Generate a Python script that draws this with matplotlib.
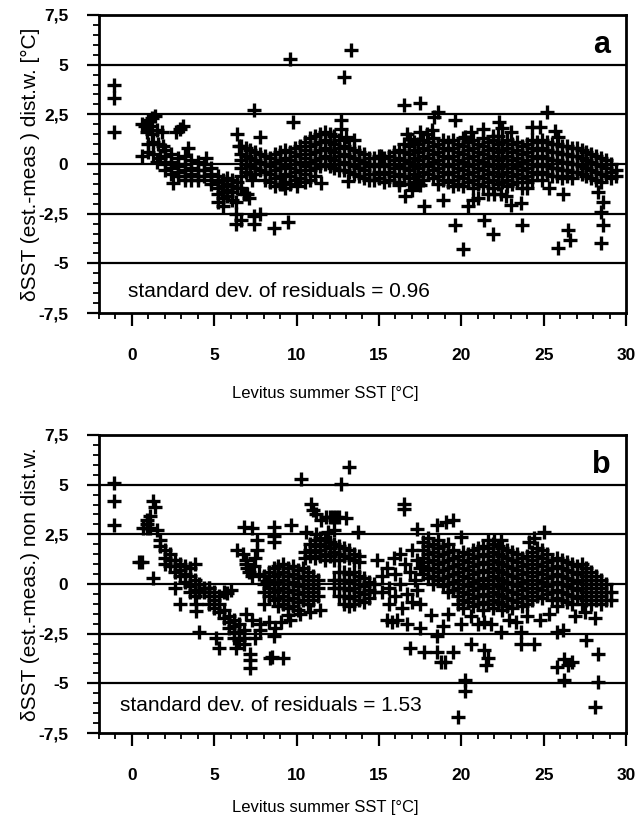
import matplotlib
matplotlib.use("Agg")
import matplotlib.pyplot as plt
from matplotlib import font_manager
from matplotlib.ticker import MultipleLocator

# ---- panel a: dense band as columns (x, [y...]) plus scattered points ----
a_cols = [
    (2.0, [0.4, 0.0, -0.3]), (2.4, [0.5, 0.1, -0.2, -0.5]), (2.8, [0.3, -0.1, -0.4, -0.6]),
    (3.2, [0.4, 0.0, -0.3, -0.6, -0.8]), (3.6, [0.2, -0.2, -0.5, -0.8]), (4.0, [0.1, -0.3, -0.6, -0.8]),
    (4.4, [0.0, -0.3, -0.6]), (4.8, [-0.2, -0.5, -0.8, -1.0]),
    (5.2, [-0.6, -0.9, -1.2, -1.5, -1.9]), (5.5, [-0.8, -1.1, -1.4, -1.7, -2.1]),
    (5.8, [-0.7, -1.0, -1.3, -1.6]), (6.1, [-0.8, -1.1, -1.4, -1.8]), (6.4, [-0.9, -1.2]),
    (6.6, [0.9, 0.5, 0.2, -0.2, -0.6]), (6.9, [0.8, 0.4, 0.0, -0.4]), (7.2, [0.7, 0.3, -0.1, -0.5]),
    (7.5, [0.6, 0.2, -0.2, -0.5]), (7.8, [0.5, 0.1, -0.3]),
    (8.1, [0.4, 0.0, -0.4, -0.8]), (8.4, [0.3, -0.1, -0.5, -0.9]), (8.7, [0.5, 0.1, -0.3, -0.7, -1.1]),
    (9.0, [0.6, 0.2, -0.2, -0.6, -1.0]), (9.3, [0.7, 0.3, -0.1, -0.5, -0.9, -1.2]),
    (9.6, [0.6, 0.2, -0.2, -0.6, -1.0]), (9.9, [0.8, 0.4, 0.0, -0.4, -0.8]),
    (10.2, [0.9, 0.5, 0.1, -0.3, -0.7]),
    (10.5, [1.1, 0.7, 0.3, -0.1, -0.5, -0.9]), (10.8, [1.3, 0.9, 0.5, 0.1, -0.3, -0.8]),
    (11.1, [1.4, 1.0, 0.6, 0.2, -0.2, -0.6]), (11.4, [1.5, 1.1, 0.7, 0.3, -0.1]),
    (11.7, [1.6, 1.2, 0.8, 0.4, 0.0]), (12.0, [1.5, 1.1, 0.7, 0.3, -0.1]),
    (12.3, [1.4, 1.0, 0.6, 0.2, -0.2]), (12.6, [1.2, 0.8, 0.4, 0.0, -0.3]),
    (12.9, [0.9, 0.5, 0.1, -0.3]), (13.2, [0.8, 0.4, 0.0, -0.4]), (13.5, [0.7, 0.3, -0.1, -0.5]),
    (13.8, [0.6, 0.2, -0.2, -0.6]), (14.1, [0.5, 0.1, -0.3, -0.7]), (14.4, [0.3, -0.1, -0.5, -0.8]),
    (14.7, [0.3, -0.1, -0.5, -0.8]), (15.0, [0.4, 0.0, -0.4, -0.7]), (15.3, [0.3, -0.1, -0.5, -0.9]),
    (15.6, [0.4, 0.0, -0.4, -0.8]), (15.9, [0.6, 0.2, -0.2, -0.6]), (16.2, [0.7, 0.3, -0.1, -0.5, -0.9]),
    (16.5, [1.0, 0.6, 0.2, -0.2, -0.6]), (16.8, [0.9, 0.5, 0.1, -0.3, -0.7, -1.0]),
    (17.1, [1.1, 0.7, 0.3, -0.1, -0.5, -0.9]), (17.4, [1.0, 0.6, 0.2, -0.2, -0.6, -1.0]),
    (17.7, [1.2, 0.8, 0.4, 0.0, -0.4, -0.8]), (18.0, [1.1, 0.7, 0.3, -0.1, -0.5]),
    (18.3, [1.3, 0.9, 0.5, 0.1, -0.3, -0.7]), (18.6, [1.0, 0.6, 0.2, -0.2, -0.6, -1.0]),
    (18.9, [1.2, 0.8, 0.4, 0.0, -0.4, -0.8]),
    (19.2, [1.1, 0.7, 0.3, -0.1, -0.5, -0.9]), (19.5, [1.2, 0.8, 0.4, 0.0, -0.4, -0.8, -1.1]),
    (19.8, [1.0, 0.6, 0.2, -0.2, -0.6, -1.0]), (20.1, [1.3, 0.9, 0.5, 0.1, -0.3, -0.7, -1.1]),
    (20.4, [1.1, 0.7, 0.3, -0.1, -0.5, -0.9]), (20.7, [1.2, 0.8, 0.4, 0.0, -0.4, -0.8, -1.2]),
    (21.0, [1.0, 0.6, 0.2, -0.2, -0.6, -1.0]), (21.3, [1.3, 0.9, 0.5, 0.1, -0.3, -0.7, -1.1]),
    (21.6, [1.1, 0.7, 0.3, -0.1, -0.5, -0.9]), (21.9, [1.2, 0.8, 0.4, 0.0, -0.4, -0.8, -1.2]),
    (22.2, [1.4, 1.0, 0.6, 0.2, -0.2, -0.6, -1.0]), (22.5, [1.1, 0.7, 0.3, -0.1, -0.5, -0.9]),
    (22.8, [1.2, 0.8, 0.4, 0.0, -0.4, -0.8, -1.1]), (23.1, [1.0, 0.6, 0.2, -0.2, -0.6, -1.0]),
    (23.4, [1.1, 0.7, 0.3, -0.1, -0.5, -0.9]), (23.7, [0.9, 0.5, 0.1, -0.3, -0.7]),
    (24.0, [1.0, 0.6, 0.2, -0.2, -0.6, -0.9]), (24.3, [1.2, 0.8, 0.4, 0.0, -0.4, -0.8]),
    (24.6, [1.1, 0.7, 0.3, -0.1, -0.5]), (24.9, [1.2, 0.8, 0.4, 0.0, -0.4, -0.8]),
    (25.2, [1.1, 0.7, 0.3, -0.1, -0.5]), (25.5, [1.0, 0.6, 0.2, -0.2, -0.6]),
    (25.8, [1.0, 0.6, 0.2, -0.2, -0.6]), (26.1, [0.9, 0.5, 0.1, -0.3, -0.7]),
    (26.4, [0.9, 0.5, 0.1, -0.3, -0.6]), (26.7, [0.8, 0.4, 0.0, -0.4, -0.7]),
    (27.0, [0.8, 0.4, 0.0, -0.4]), (27.3, [0.7, 0.3, -0.1, -0.5]), (27.6, [0.6, 0.2, -0.2, -0.6]),
    (27.9, [0.5, 0.1, -0.3, -0.7]), (28.2, [0.4, 0.0, -0.4, -0.8]), (28.5, [0.3, -0.1, -0.5, -0.9]),
    (28.8, [0.2, -0.2, -0.6]), (29.1, [0.0, -0.4, -0.7]), (29.4, [-0.3, -0.6]),
]
a_pts = [
    (-1.1, 4.0), (-1.1, 3.3), (-1.1, 1.6),
    (0.6, 2.0), (0.8, 1.9), (1.0, 2.2), (1.2, 2.3), (1.4, 2.4), (1.1, 1.9), (0.9, 1.6), (1.2, 1.5),
    (1.5, 1.7), (1.8, 1.6), (1.0, 1.0), (1.3, 1.1), (1.6, 1.0), (1.9, 0.9), (0.6, 0.4), (1.0, 0.6),
    (1.3, 0.5), (1.7, 0.3), (2.0, 0.7), (1.5, 0.1), (2.9, 1.75), (3.1, 1.9), (2.7, 1.6), (3.4, 0.83),
    (2.5, -0.95), (4.5, 0.3),
    (6.4, 1.5), (6.5, 0.9), (7.4, 2.7), (7.8, 1.35), (6.6, -1.2), (6.8, -1.5), (7.0, -1.5), (6.3, -1.9),
    (6.3, -2.5), (6.3, -3.0), (6.6, -2.8), (7.4, -2.6), (7.4, -3.0), (7.8, -2.5), (8.6, -3.2),
    (9.5, -2.9), (9.6, 5.3), (9.8, 2.1), (7.1, -1.7), (7.3, -0.8),
    (11.5, -0.95), (12.7, 2.2), (12.7, 1.75), (13.0, 1.35), (13.5, 1.2), (13.1, -0.85), (13.3, 5.75),
    (12.9, 4.4), (10.0, -1.1), (9.2, -1.0),
    (16.5, 2.95), (17.5, 3.05), (18.35, 2.35), (18.6, 2.6), (16.7, 1.5), (16.9, 1.25), (17.5, 1.6),
    (17.9, 1.5), (18.2, 1.7), (16.6, -1.6), (17.75, -2.1), (18.9, -1.8), (17.2, -1.0), (17.5, -1.05),
    (15.1, 0.4), (16.2, -1.05), (17.0, -1.3),
    (19.6, 2.2), (21.3, 1.75), (22.3, 2.1), (22.5, 1.8), (20.2, 1.35), (20.6, 1.6), (23.0, 1.6),
    (21.9, 1.4), (25.2, 2.6), (24.3, 1.85), (24.8, 1.85), (25.7, 1.65), (25.9, 1.35),
    (19.6, -3.05), (20.1, -4.3), (21.4, -2.8), (21.9, -3.5), (23.7, -3.05), (26.45, -3.3),
    (26.6, -3.8), (25.9, -4.25), (28.6, -3.05), (28.5, -4.0), (28.5, -2.4), (28.6, -1.9),
    (28.3, -1.4), (20.4, -2.1), (20.7, -1.8), (21.6, -1.5), (22.0, -1.5), (22.4, -1.5), (23.0, -2.05),
    (23.6, -1.95), (23.7, -1.2), (24.0, -1.2), (25.3, -1.2), (26.2, -1.5), (21.0, -1.7), (22.7, -1.6),
]

# ---- panel b ----
b_cols = [
    (1.7, [2.2, 1.9]), (2.0, [1.7, 1.3, 1.0]), (2.3, [1.5, 1.2, 0.9]), (2.6, [1.2, 0.9, 0.6, -0.2]),
    (2.9, [1.0, 0.7, 0.4, -1.0]), (3.2, [0.9, 0.5, 0.1]), (3.5, [0.8, 0.4, -0.1, -0.4]),
    (3.8, [1.0, 0.2, -0.3, -0.6]), (4.1, [0.0, -0.3, -0.4]), (4.4, [-0.2, -0.4]),
    (4.7, [-0.2, -0.6, -1.0]), (5.0, [-0.4, -0.8, -1.2]), (5.3, [-0.6, -1.0, -1.4]),
    (5.6, [-0.4, -1.3, -1.7]), (5.9, [-1.6, -1.9, -2.2]), (6.2, [-1.8, -2.1, -2.4, -2.7]),
    (6.5, [-2.0, -2.4, -2.8]), (6.8, [-2.3, -2.7, -3.0]),
    (8.0, [0.4, 0.0, -0.4]), (8.3, [0.6, 0.2, -0.2, -0.6]), (8.6, [0.8, 0.4, 0.0, -0.4, -0.8]),
    (8.9, [0.9, 0.5, 0.1, -0.3, -0.7, -1.1]), (9.2, [1.0, 0.6, 0.2, -0.2, -0.6, -1.0]),
    (9.5, [0.8, 0.4, 0.0, -0.4, -0.8, -1.2]), (9.8, [0.9, 0.5, 0.1, -0.3, -0.7, -1.1]),
    (10.1, [0.7, 0.3, -0.1, -0.5, -0.9, -1.3]), (10.4, [0.8, 0.4, 0.0, -0.4, -0.8]),
    (10.7, [0.6, 0.2, -0.2, -0.6, -1.0]), (11.0, [0.4, 0.0, -0.4, -0.8]), (11.3, [0.2, -0.2, -0.6]),
    (10.5, [1.6, 1.3]), (10.8, [2.0, 1.7, 1.4]), (11.1, [2.2, 1.9, 1.6, 1.3]),
    (11.4, [2.3, 2.0, 1.7, 1.4]), (11.7, [2.2, 1.9, 1.5, 1.2]), (12.0, [2.1, 1.8, 1.4]),
    (12.3, [2.0, 1.6, 1.2, 0.2, -0.2]), (12.6, [1.9, 1.5, 1.2, 0.6, 0.2, -0.2, -0.6]),
    (12.9, [1.8, 1.4, 0.6, 0.2, -0.2, -0.6, -1.0]), (13.2, [1.7, 1.3, 0.5, 0.1, -0.3, -0.7, -1.1]),
    (13.5, [1.5, 1.2, 0.6, 0.2, -0.2, -0.6, -1.0]), (13.8, [1.4, 1.1, 0.4, 0.0, -0.4, -0.8]),
    (14.1, [0.3, -0.1, -0.5, -0.9]), (14.4, [0.1, -0.3, -0.7]), (14.7, [0.0, -0.4]),
    (17.7, [2.1, 1.7, 1.3, 0.9, 0.5]), (18.0, [2.3, 1.9, 1.5, 1.1, 0.7, 0.3]),
    (18.3, [2.0, 1.6, 1.2, 0.8, 0.4, 0.0]), (18.6, [2.2, 1.8, 1.4, 1.0, 0.6, 0.2]),
    (18.9, [1.9, 1.5, 1.1, 0.7, 0.3, -0.1]), (19.2, [2.0, 1.6, 1.2, 0.8, 0.4, 0.0, -0.4]),
    (19.5, [1.7, 1.3, 0.9, 0.5, 0.1, -0.3]),
    (19.8, [1.4, 1.0, 0.6, 0.2, -0.2, -0.6, -1.0]), (20.1, [1.6, 1.2, 0.8, 0.4, 0.0, -0.4, -0.8, -1.2]),
    (20.4, [1.5, 1.1, 0.7, 0.3, -0.1, -0.5, -0.9]), (20.7, [1.7, 1.3, 0.9, 0.5, 0.1, -0.3, -0.7, -1.1]),
    (21.0, [1.8, 1.4, 1.0, 0.6, 0.2, -0.2, -0.6, -1.0]),
    (21.3, [1.9, 1.5, 1.1, 0.7, 0.3, -0.1, -0.5, -0.9, -1.3]),
    (21.6, [1.8, 1.4, 1.0, 0.6, 0.2, -0.2, -0.6, -1.0]),
    (21.9, [2.0, 1.6, 1.2, 0.8, 0.4, 0.0, -0.4, -0.8, -1.2]),
    (22.2, [1.9, 1.5, 1.1, 0.7, 0.3, -0.1, -0.5, -0.9]),
    (22.5, [1.8, 1.4, 1.0, 0.6, 0.2, -0.2, -0.6, -1.0, -1.3]),
    (22.8, [1.7, 1.3, 0.9, 0.5, 0.1, -0.3, -0.7, -1.1]),
    (23.1, [1.6, 1.2, 0.8, 0.4, 0.0, -0.4, -0.8, -1.2]),
    (23.4, [1.5, 1.1, 0.7, 0.3, -0.1, -0.5, -0.9]), (23.7, [1.3, 0.9, 0.5, 0.1, -0.3, -0.7, -1.1]),
    (24.0, [1.4, 1.0, 0.6, 0.2, -0.2, -0.6, -1.0]), (24.3, [1.6, 1.2, 0.8, 0.4, 0.0, -0.4, -0.8]),
    (24.6, [1.8, 1.4, 1.0, 0.6, 0.2, -0.2, -0.6]), (24.9, [1.7, 1.3, 0.9, 0.5, 0.1, -0.3, -0.7]),
    (25.2, [1.5, 1.1, 0.7, 0.3, -0.1, -0.5]),
    (25.5, [1.2, 0.8, 0.4, 0.0, -0.4, -0.8]), (25.8, [1.3, 0.9, 0.5, 0.1, -0.3, -0.7, -1.1]),
    (26.1, [1.2, 0.8, 0.4, 0.0, -0.4, -0.8]), (26.4, [1.1, 0.7, 0.3, -0.1, -0.5, -0.9]),
    (26.7, [1.0, 0.6, 0.2, -0.2, -0.6, -1.0]), (27.0, [0.9, 0.5, 0.1, -0.3, -0.7]),
    (27.3, [1.0, 0.6, 0.2, -0.2, -0.6, -1.0]), (27.6, [0.8, 0.4, 0.0, -0.4, -0.8]),
    (27.9, [0.6, 0.2, -0.2, -0.6, -1.0]), (28.2, [0.4, 0.0, -0.4, -0.8]),
    (28.5, [0.2, -0.2, -0.6, -1.0]), (28.8, [0.0, -0.4, -0.8]), (29.1, [-0.4, -0.8]),
]
b_pts = [
    (-1.1, 5.1), (-1.1, 4.2), (-1.1, 2.95), (1.3, 4.2), (1.4, 3.9), (0.9, 3.2), (0.7, 2.8), (0.9, 2.8),
    (1.1, 2.8), (1.1, 3.4), (0.9, 3.0), (1.5, 2.7), (0.6, 1.1), (0.4, 1.1), (1.3, 0.3),
    (3.9, -1.35), (3.9, -1.0), (4.1, -2.4), (5.1, -2.7), (5.3, -3.2), (6.3, -3.2), (7.2, -3.5),
    (7.2, -3.8), (7.2, -4.25), (6.95, -1.5), (7.3, -1.8), (7.75, -2.0), (7.5, -2.7), (8.5, -3.65),
    (8.3, -1.9), (8.7, -2.2), (7.8, -2.3), (8.6, -2.6), (8.4, -3.7), (9.2, -3.7), (9.45, -1.55),
    (6.0, -0.3), (5.75, -0.45), (4.7, -0.2),
    (6.35, 1.7), (6.75, 1.5), (6.9, 1.0), (7.1, 0.6), (7.0, 0.8), (6.9, 1.2), (7.3, 0.4), (7.6, 2.2),
    (7.3, 2.8), (6.8, 2.85), (8.6, 2.85), (8.6, 2.4), (8.6, 2.1), (7.6, 1.7), (7.5, 1.3), (7.4, 0.9),
    (7.7, 0.5), (8.2, 0.15), (8.0, -1.0), (9.65, 2.95), (10.25, 5.3),
    (10.9, 4.05), (11.0, 3.7), (11.2, 3.5), (11.5, 3.2), (11.8, 3.35), (12.0, 3.35), (12.2, 3.35),
    (12.4, 3.35), (12.6, 3.35), (13.0, 3.3), (13.7, 2.6), (13.2, 5.9), (12.7, 5.05), (14.9, 1.2),
    (11.9, 2.6), (12.3, 2.7), (10.6, 2.6), (11.2, 2.5),
    (9.05, -1.9), (9.6, -1.8), (10.2, -1.5), (10.8, -1.4), (11.4, -1.3), (15.5, -1.8), (15.8, -1.9),
    (16.1, -1.8), (16.7, -2.0), (16.9, -3.2), (17.75, -3.4), (18.55, -3.4), (18.75, -3.9),
    (18.55, -2.6), (17.5, -2.2), (18.15, -1.55), (17.3, 2.75), (18.55, 2.95), (19.1, 3.1),
    (16.5, 4.05), (16.5, 3.8),
    (15.2, 0.4), (15.2, -0.4), (15.5, 0.8), (15.6, -0.2), (15.6, -1.0), (15.9, 1.3), (16.0, 0.5),
    (16.0, -0.6), (16.3, 1.5), (16.3, 0.0), (16.4, -1.2), (16.6, 1.0), (16.7, -0.5), (16.9, 0.6),
    (17.0, 1.7), (17.0, -0.9), (17.2, 0.2), (17.3, 1.2), (17.3, -0.3), (17.5, 0.8), (17.5, -1.0),
    (19.5, 3.2), (20.0, 2.35), (21.6, 2.2), (22.0, 2.2), (22.4, 2.2), (25.0, 2.6), (24.1, 2.1),
    (24.4, 2.3), (20.0, -2.0), (20.6, -1.6), (21.0, -2.0), (21.4, -1.9), (21.8, -2.0), (22.4, -2.4),
    (22.9, -1.8), (23.6, -2.4), (23.6, -3.0), (24.4, -3.0), (20.6, -3.0), (21.4, -3.3), (21.6, -3.7),
    (21.5, -4.1), (19.5, -3.4), (19.0, -3.9), (20.2, -4.85), (20.2, -5.4), (19.8, -6.7),
    (26.25, -3.75), (25.8, -4.2), (26.5, -4.1), (26.7, -3.9), (26.25, -4.85), (28.3, -3.5),
    (28.3, -4.95), (28.1, -6.2), (27.6, -2.8), (25.8, -2.4), (26.2, -2.3), (28.1, -1.7),
    (24.8, -1.8), (25.3, -1.5), (24.0, -1.6), (23.3, -1.9), (19.2, -1.5), (18.9, -2.1),
    (26.9, -1.6), (27.5, -1.4),
]

y_ticks = [-7.5, -5, -2.5, 0, 2.5, 5, 7.5]
y_tick_labels = ["-7,5", "-5", "-2,5", "0", "2,5", "5", "7,5"]
x_ticks = [0, 5, 10, 15, 20, 25, 30]
ref_lines = [-5, -2.5, 0, 2.5, 5]

installed = {f.name for f in font_manager.fontManager.ttflist}
plt.rcParams['font.family'] = ['Liberation Sans', 'DejaVu Sans']
narrow = 'Liberation Sans Narrow' if 'Liberation Sans Narrow' in installed else 'Liberation Sans'
xlabel_size = 13 if narrow != 'Liberation Sans' else 12


def flatten(cols, pts):
    xs, ys = [], []
    for x, col in cols:
        for y in col:
            xs.append(x)
            ys.append(y)
    for x, y in pts:
        xs.append(x)
        ys.append(y)
    return xs, ys


def draw_panel(ax, cols, pts, ylabel, letter, note, note_xy, xlabel_y):
    xs, ys = flatten(cols, pts)
    for yv in ref_lines:
        ax.axhline(yv, color='black', lw=1.6, zorder=1)
    ax.plot(xs, ys, '+', color='black', ms=10, mew=2.4, zorder=2)

    ax.set_xlim(-2, 30)
    ax.set_ylim(-7.5, 7.5)
    ax.set_xticks(x_ticks)
    ax.set_yticks(y_ticks)
    ax.set_yticklabels(y_tick_labels)
    ax.xaxis.set_minor_locator(MultipleLocator(1))
    ax.yaxis.set_minor_locator(MultipleLocator(0.5))
    ax.tick_params(axis='x', which='major', direction='out', length=9, width=1.6, pad=16, labelsize=12.5)
    ax.tick_params(axis='x', which='minor', direction='out', length=4.5, width=1.3)
    ax.tick_params(axis='y', which='major', direction='out', length=9, width=1.6, pad=13, labelsize=12.5)
    ax.tick_params(axis='y', which='minor', direction='out', length=4, width=1.3)
    for lab in ax.get_xticklabels() + ax.get_yticklabels():
        lab.set_fontweight('bold')
    for s in ax.spines.values():
        s.set_linewidth(2.0)

    ax.set_ylabel(ylabel, fontsize=15)
    ax.yaxis.set_label_coords(-0.112, 0.5)
    ax.set_xlabel('Levitus summer SST [°C]', fontsize=xlabel_size, family=narrow)
    ax.xaxis.set_label_coords(0.429, xlabel_y)

    ax.text(28.5, 6.0, letter, fontsize=22, fontweight='bold', ha='center', va='center')
    ax.text(note_xy[0], note_xy[1], note, fontsize=15, ha='left', va='center')


fig = plt.figure(figsize=(6.37, 8.24), dpi=100)
ax_a = fig.add_axes([0.1554, 0.6201, 0.8273, 0.3617])
ax_b = fig.add_axes([0.1554, 0.1104, 0.8273, 0.3617])

draw_panel(ax_a, a_cols, a_pts, 'δSST (est.-meas ) dist.w. [°C]', 'a',
           'standard dev. of residuals = 0.96', (-0.25, -6.4), -0.245)
draw_panel(ax_b, b_cols, b_pts, 'δSST (est.-meas.) non dist.w.', 'b',
           'standard dev. of residuals = 1.53', (-0.7, -6.1), -0.225)

fig.savefig('out.png', dpi=100)
